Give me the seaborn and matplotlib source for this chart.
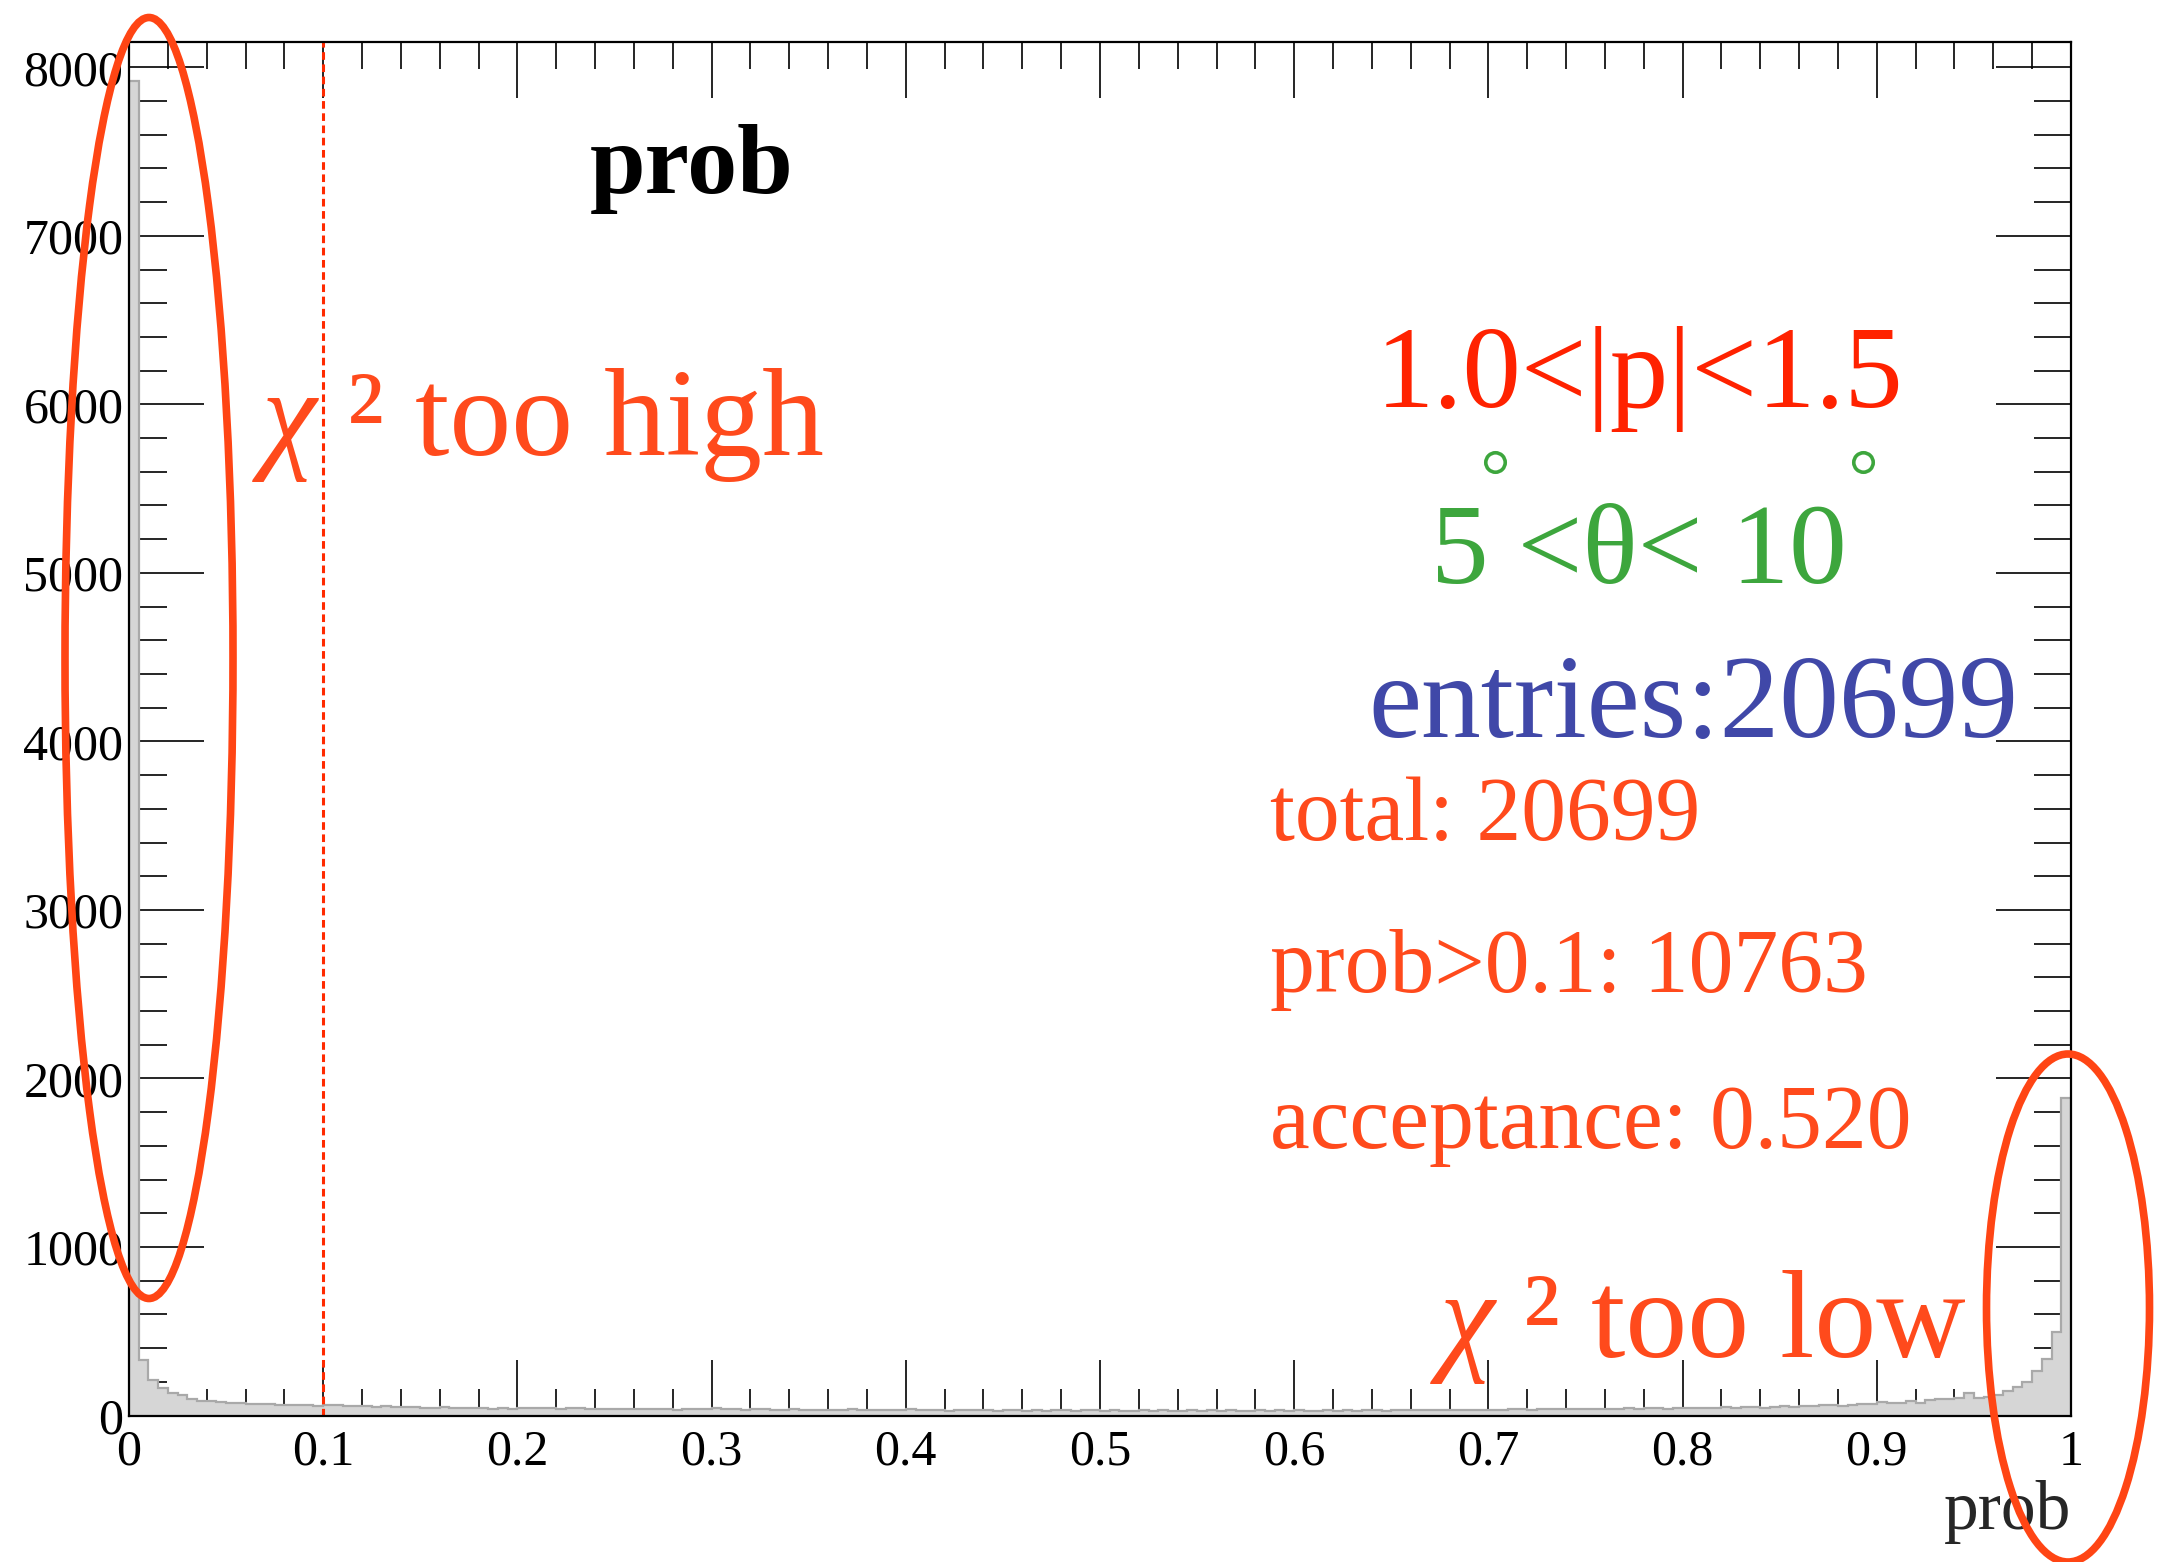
import numpy as np
import pandas as pd
import matplotlib
matplotlib.use("Agg")
import matplotlib.pyplot as plt
from matplotlib.patches import Ellipse
from matplotlib.ticker import MultipleLocator
import seaborn as sns

# prob histogram, 200 bins between 0 and 1 (counts)
n_bins = 200
bin_edges = np.linspace(0.0, 1.0, n_bins + 1)
counts = [
    7920, 332, 212, 162, 136, 119, 99, 86, 85, 79,
    76, 74, 71, 68, 66, 64, 62, 60, 60, 58,
    60, 62, 58, 57, 55, 52, 54, 50, 52, 48,
    47, 45, 48, 44, 46, 42, 44, 40, 43, 41,
    47, 44, 42, 45, 40, 43, 46, 38, 41, 36,
    39, 37, 40, 36, 38, 41, 35, 37, 39, 36,
    42, 36, 38, 34, 37, 40, 35, 33, 36, 34,
    32, 35, 33, 31, 36, 34, 32, 35, 33, 31,
    38, 31, 30, 33, 29, 32, 30, 34, 31, 28,
    30, 32, 29, 31, 28, 30, 32, 29, 30, 31,
    28, 30, 29, 27, 31, 28, 30, 29, 27, 30,
    29, 31, 28, 30, 27, 29, 31, 28, 30, 29,
    30, 28, 27, 30, 29, 31, 28, 30, 32, 29,
    31, 33, 30, 32, 34, 31, 33, 35, 32, 34,
    35, 33, 36, 38, 34, 37, 39, 36, 38, 40,
    39, 41, 38, 40, 43, 41, 44, 42, 40, 43,
    45, 43, 47, 44, 48, 46, 50, 48, 45, 52,
    55, 53, 58, 56, 60, 62, 58, 64, 66, 70,
    78, 74, 74, 87, 74, 93, 99, 99, 103, 133,
    105, 109, 123, 148, 172, 196, 267, 335, 498, 1883,
]
prob_cut = 0.1
momentum_label = "1.0<|p|<1.5"
theta_label = "5 <θ< 10"
entries_label = "entries:20699"
stat_lines = ["total: 20699", "prob>0.1: 10763", "acceptance: 0.520"]
x_ticklabels = ["0", "0.1", "0.2", "0.3", "0.4", "0.5", "0.6", "0.7", "0.8", "0.9", "1"]

df = pd.DataFrame({"prob": (bin_edges[:-1] + bin_edges[1:]) / 2, "count": counts})

W, H = 2161, 1562
sns.set_style("ticks")
plt.rcParams["font.family"] = ["Liberation Serif", "DejaVu Serif"]

fig = plt.figure(figsize=(W / 100, H / 100), dpi=100)
ax = fig.add_axes([129 / W, 1 - 1415.5 / H, (2071 - 129) / W, (1415.5 - 42) / H])

sns.histplot(data=df, x="prob", weights="count", bins=n_bins, binrange=(0, 1),
             element="step", fill=True, color="#d6d6d6", alpha=1, linewidth=0, ax=ax)
ax.stairs(counts, bin_edges, color="#a9a9a9", lw=1.6)
ax.axvline(prob_cut, color="#ff2a00", lw=2.2, dashes=(2.5, 1.5))

ax.set_xlim(0, 1)
ax.set_ylim(0, 8150)
ax.xaxis.set_major_locator(MultipleLocator(0.1))
ax.xaxis.set_minor_locator(MultipleLocator(0.02))
ax.yaxis.set_major_locator(MultipleLocator(1000))
ax.yaxis.set_minor_locator(MultipleLocator(200))
ax.set_xticks(np.linspace(0, 1, 11))
ax.set_xticklabels(x_ticklabels)
ax.tick_params(which="both", direction="in", top=True, right=True, width=1.2, colors="black")
ax.tick_params(axis="x", which="major", length=40, labelsize=36, pad=10)
ax.tick_params(axis="x", which="minor", length=19.5)
ax.tick_params(axis="y", which="major", length=54, labelsize=36, pad=4)
ax.tick_params(axis="y", which="minor", length=27)
for s in ax.spines.values():
    s.set_linewidth(1.6)
    s.set_color("black")
ax.set_ylabel("")
ax.set_xlabel("prob", loc="right", fontsize=50, labelpad=3)


def ftxt(x, y, s, **kw):
    # x, y in pixels of the full image (y = baseline from top)
    fig.text(x / W, 1 - y / H, s, va="baseline", ha="left", **kw)


red = "#ff4a1c"
ftxt(590, 193, "prob", fontsize=72, fontweight="bold", color="black")

ftxt(262, 455, "χ", fontsize=89, style="italic", color=red)
ftxt(347, 455, "² too high", fontsize=89, color=red)
ftxt(1440, 1357, "χ", fontsize=89, style="italic", color=red)
ftxt(1523, 1357, "² too low", fontsize=89, color=red)

ftxt(1376, 407, momentum_label, fontsize=84, color="#ff2200")
ftxt(1431, 583, theta_label, fontsize=83, color="#3da63d")
for xd in (1495, 1863):
    fig.add_artist(plt.Line2D([xd / W], [1 - 462 / H], marker="o", ms=14, mfc="none",
                              mec="#3da63d", mew=2.6, transform=fig.transFigure))
ftxt(1368, 737, entries_label, fontsize=86, color="#4048a8")
for yb, line in zip([840, 992, 1148], stat_lines):
    ftxt(1270, yb, line, fontsize=64.5, color=red)

for cx, cy, w, h in [(149, 658, 168, 1281), (2068, 1308, 163, 508)]:
    fig.add_artist(Ellipse((cx / W, 1 - cy / H), w / W, h / H, transform=fig.transFigure,
                           fill=False, edgecolor="#ff4514", lw=5.5, clip_on=False))

fig.savefig("out.png", dpi=100)
